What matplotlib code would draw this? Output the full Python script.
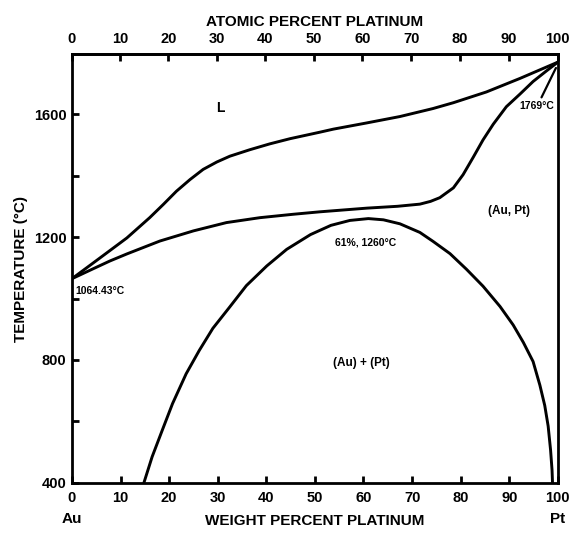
import matplotlib

matplotlib.use("Agg")
import matplotlib.pyplot as plt
from matplotlib import ticker

plt.rcParams["font.family"] = ["Liberation Sans Narrow", "Liberation Sans", "DejaVu Sans"]
plt.rcParams["font.weight"] = "bold"

AU_MASS = 196.97
PT_MASS = 195.08

T_MELT_AU = 1064.43
T_MELT_PT = 1769
GAP_TOP_WT = 61
GAP_TOP_T = 1260

# liquidus, weight % Pt vs temperature (C)
liquidus_wt = [0, 5.6, 11.3, 16.0, 18.8, 21.5, 24.3, 27.0, 29.8, 32.5, 36.6, 40.7,
               44.9, 51.0, 53.8, 60.6, 67.5, 74.3, 78.5, 85.3, 92.2, 100]
liquidus_t = [T_MELT_AU, 1130, 1197, 1263, 1306, 1349, 1387, 1420, 1444, 1463, 1484, 1503,
              1520, 1541, 1551, 1571, 1592, 1618, 1637, 1672, 1716, T_MELT_PT]

# solidus
solidus_wt = [0, 4.4, 7.8, 11.3, 14.7, 18.1, 25.0, 31.8, 38.7, 45.5, 51.0, 60.7, 67.0,
              71.6, 73.8, 75.7, 78.5, 80.5, 82.6, 84.6, 86.7, 89.4, 92.2, 94.9, 97.7, 100]
solidus_t = [T_MELT_AU, 1097, 1122, 1145, 1166, 1187, 1220, 1247, 1263, 1274, 1282, 1294, 1300,
             1307, 1316, 1328, 1360, 1403, 1460, 1516, 1567, 1624, 1665, 1706, 1741, T_MELT_PT]

# miscibility gap (Au) + (Pt)
gap_wt = [14.8, 16.5, 18.6, 20.7, 23.5, 26.2, 29.0, 32.5, 35.9, 40.1, 44.2, 49.1,
          53.3, 57.2, GAP_TOP_WT, 64.1, 67.5, 71.6, 74.3, 77.8, 81.2, 84.6, 88.1,
          90.8, 92.9, 94.9, 96.3, 97.3, 98.0, 98.5, 98.8, 98.9]
gap_t = [400, 485, 572, 658, 755, 831, 903, 973, 1042, 1106, 1160, 1208,
         1238, 1254, GAP_TOP_T, 1256, 1243, 1215, 1186, 1146, 1095, 1040, 974,
         914, 857, 795, 718, 652, 585, 507, 442, 400]

wt_ticks = list(range(0, 101, 10))
at_ticks = list(range(0, 101, 10))
temp_ticks = [400, 800, 1200, 1600]
temp_minor = [600, 1000, 1400]


def wt_to_at(w):
    w = w.clip(0, 100) if hasattr(w, "clip") else w
    n_pt = w / PT_MASS
    n_au = (100 - w) / AU_MASS
    return 100 * n_pt / (n_pt + n_au)


def at_to_wt(a):
    a = a.clip(0, 100) if hasattr(a, "clip") else a
    m_pt = a * PT_MASS
    m_au = (100 - a) * AU_MASS
    return 100 * m_pt / (m_pt + m_au)


fig = plt.figure(figsize=(5.71, 5.36), dpi=100)
ax = fig.add_axes([0.126, 0.099, 0.851, 0.800])

for xs, ys in [(liquidus_wt, liquidus_t), (solidus_wt, solidus_t), (gap_wt, gap_t)]:
    ax.plot(xs, ys, color="black", lw=2.1, solid_joinstyle="round", solid_capstyle="round")

ax.set_xlim(0, 100)
ax.set_ylim(400, 1795)

for s in ax.spines.values():
    s.set_linewidth(2.0)

ax.set_xticks(wt_ticks)
ax.set_yticks(temp_ticks)
ax.yaxis.set_minor_locator(ticker.FixedLocator(temp_minor))
ax.tick_params(axis="x", direction="in", length=5, width=2, pad=6, labelsize=10.5)
ax.tick_params(axis="y", which="both", direction="in", length=5, width=2, pad=4,
               labelsize=10.5)

top = ax.secondary_xaxis("top", functions=(wt_to_at, at_to_wt))
top.set_xticks(at_ticks)
top.tick_params(direction="in", length=5, width=2, pad=6, labelsize=10.5)
top.spines["top"].set_linewidth(2.0)
top.set_xlabel("ATOMIC PERCENT PLATINUM", fontsize=11, fontweight="bold", labelpad=4)

ax.set_xlabel("WEIGHT PERCENT PLATINUM", fontsize=11, fontweight="bold", labelpad=6)
ax.set_ylabel("TEMPERATURE (°C)", fontsize=11, fontweight="bold", labelpad=4)
ax.text(0, -0.085, "Au", transform=ax.transAxes, ha="center", va="center", fontsize=11)
ax.text(1, -0.085, "Pt", transform=ax.transAxes, ha="center", va="center", fontsize=11)

ax.text(30.5, 1620, "L", ha="center", va="center", fontsize=10)
ax.text(0.8, 1025, f"{T_MELT_AU:.2f}°C", ha="left", va="center", fontsize=7.5)
ax.annotate(f"{T_MELT_PT}°C", xy=(99.6, 1750), xytext=(99.3, 1625),
            ha="right", va="center", fontsize=7.5,
            arrowprops=dict(arrowstyle="-", color="black", lw=1.6, shrinkA=1, shrinkB=0))
ax.text(60.5, 1181, f"{GAP_TOP_WT}%, {GAP_TOP_T}°C", ha="center", va="center", fontsize=7.5)
ax.text(90, 1284, "(Au, Pt)", ha="center", va="center", fontsize=8.5)
ax.text(59.6, 789, "(Au) + (Pt)", ha="center", va="center", fontsize=8.5)

fig.savefig("out.png", dpi=100)
